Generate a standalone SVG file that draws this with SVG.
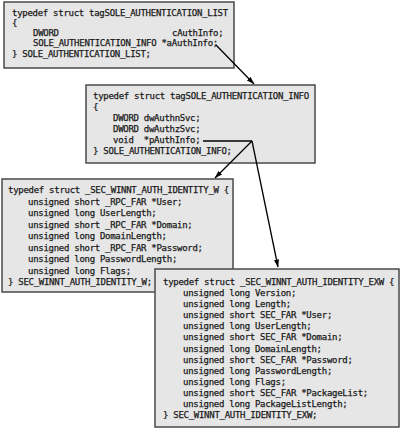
<svg xmlns="http://www.w3.org/2000/svg" width="404" height="432" viewBox="0 0 404 432" xml:space="preserve">
<defs>
<style>
.box{fill:#e6e6e6;stroke:#4a4a4a;stroke-width:1.5}
.t{font-family:"DejaVu Sans Mono","Liberation Mono",monospace;font-size:9px;letter-spacing:-0.28px;fill:#1a1a1a;stroke:#1a1a1a;stroke-width:0.25px;white-space:pre}
.c{stroke:#000;stroke-width:1.3;fill:none}
</style>
<marker id="ah" markerWidth="8" markerHeight="6" refX="7.5" refY="3" orient="auto" markerUnits="userSpaceOnUse">
<path d="M0,0.5 L8,3 L0,5.5 Z" fill="#000"/>
</marker>
</defs>
<rect width="404" height="432" fill="#fff"/>
<g id="sole_auth_list">
<rect class="box" x="4" y="2" width="230" height="66"/>
<text class="t" x="12" y="15.8">typedef struct tagSOLE_AUTHENTICATION_LIST</text>
<text class="t" x="12" y="26">{</text>
<text class="t" x="33" y="36.2">DWORD</text>
<text class="t" x="172" y="36.2">cAuthInfo;</text>
<text class="t" x="33" y="46.4">SOLE_AUTHENTICATION_INFO *aAuthInfo;</text>
<text class="t" x="12" y="56.6">} SOLE_AUTHENTICATION_LIST;</text>
</g>
<g id="sole_auth_info">
<rect class="box" x="86" y="85" width="229" height="78"/>
<text class="t" x="93" y="99">typedef struct tagSOLE_AUTHENTICATION_INFO</text>
<text class="t" x="93" y="110">{</text>
<text class="t" x="113" y="121">DWORD dwAuthnSvc;</text>
<text class="t" x="113" y="132">DWORD dwAuthzSvc;</text>
<text class="t" x="113" y="143">void  *pAuthInfo;</text>
<text class="t" x="93" y="154">} SOLE_AUTHENTICATION_INFO;</text>
</g>
<g id="sec_winnt_auth_identity_w">
<rect class="box" x="2" y="179" width="231" height="113"/>
<text class="t" x="8" y="193">typedef struct _SEC_WINNT_AUTH_IDENTITY_W {</text>
<text class="t" x="28" y="204.5">unsigned short _RPC_FAR *User;</text>
<text class="t" x="28" y="216">unsigned long UserLength;</text>
<text class="t" x="28" y="227.5">unsigned short _RPC_FAR *Domain;</text>
<text class="t" x="28" y="239">unsigned long DomainLength;</text>
<text class="t" x="28" y="250.5">unsigned short _RPC_FAR *Password;</text>
<text class="t" x="28" y="262">unsigned long PasswordLength;</text>
<text class="t" x="28" y="273.5">unsigned long Flags;</text>
<text class="t" x="8" y="285">} SEC_WINNT_AUTH_IDENTITY_W;</text>
</g>
<g id="sec_winnt_auth_identity_exw">
<rect class="box" x="155" y="269" width="244" height="158"/>
<text class="t" x="163" y="285">typedef struct _SEC_WINNT_AUTH_IDENTITY_EXW {</text>
<text class="t" x="183" y="296.1">unsigned long Version;</text>
<text class="t" x="183" y="307.2">unsigned long Length;</text>
<text class="t" x="183" y="318.2">unsigned short SEC_FAR *User;</text>
<text class="t" x="183" y="329.3">unsigned long UserLength;</text>
<text class="t" x="183" y="340.4">unsigned short SEC_FAR *Domain;</text>
<text class="t" x="183" y="351.5">unsigned long DomainLength;</text>
<text class="t" x="183" y="362.6">unsigned short SEC_FAR *Password;</text>
<text class="t" x="183" y="373.6">unsigned long PasswordLength;</text>
<text class="t" x="183" y="384.7">unsigned long Flags;</text>
<text class="t" x="183" y="395.8">unsigned short SEC_FAR *PackageList;</text>
<text class="t" x="183" y="406.9">unsigned long PackageListLength;</text>
<text class="t" x="163" y="418">} SEC_WINNT_AUTH_IDENTITY_EXW;</text>
</g>
<g id="connectors">
<line class="c" x1="216" y1="45" x2="254" y2="84" marker-end="url(#ah)"/>
<line class="c" x1="203" y1="141" x2="252" y2="141"/>
<line class="c" x1="252" y1="141" x2="215" y2="178" marker-end="url(#ah)"/>
<line class="c" x1="252" y1="141" x2="278" y2="267" marker-end="url(#ah)"/>
</g>
</svg>
